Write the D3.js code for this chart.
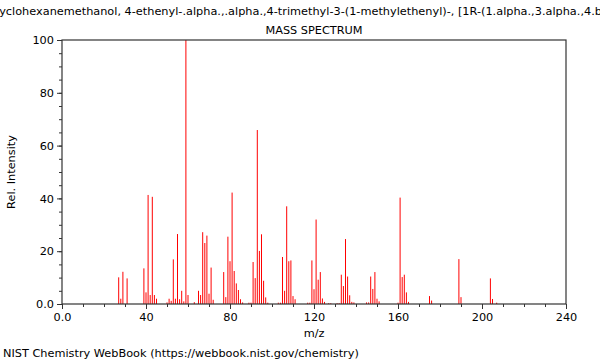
<!DOCTYPE html>
<html><head><meta charset="utf-8">
<script src="https://cdn.jsdelivr.net/npm/d3@7"></script>
<style>body{margin:0;background:#fff;}svg{display:block;font-family:"DejaVu Sans",sans-serif;}</style>
</head><body>
<svg id="c" width="600" height="360"></svg>
<script>
const titleText = "Cyclohexanemethanol, 4-ethenyl-.alpha.,.alpha.,4-trimethyl-3-(1-methylethenyl)-, [1R-(1.alpha.,3.alpha.,4.beta.)]-";
const subtitleText = "MASS SPECTRUM";
const xLabel = "m/z";
const yLabel = "Rel. Intensity";
const footer = "NIST Chemistry WebBook (https://webbook.nist.gov/chemistry)";
const xTicks = [0, 40, 80, 120, 160, 200, 240];
const xTickLabels = ["0.0", "40", "80", "120", "160", "200", "240"];
const yTicks = [0, 20, 40, 60, 80, 100];
const yTickLabels = ["0.0", "20", "40", "60", "80", "100"];
const mz = [27,28,29,31,39,40,41,42,43,44,45,50,51,52,53,54,55,56,57,58,59,60,63,65,66,67,68,69,70,71,72,
  77,78,79,80,81,82,83,84,85,86,89,90,91,92,93,94,95,96,97,98,103,104,105,106,107,108,109,110,111,
  117,118,119,120,121,122,123,124,125,127,128,131,132,133,134,135,136,137,138,139,
  145,146,147,148,149,150,151,160,161,162,163,164,165,175,176,189,190,204,205,207];
const intensity = [10.1,2,12.2,9.7,13.5,4.4,41.3,3.4,40.6,3.4,2,0.6,2,1.2,16.9,2,26.5,1.8,5,1,100,3.4,0.7,5,3.4,27.2,23.1,25.9,3.9,13.8,1.6,
  12.1,2.6,25.5,16.2,42.2,12.5,7.8,5.3,1.8,0.6,0.5,0.5,15.9,9.8,65.9,20.1,26.4,8.8,2.5,0.5,0.5,0.5,17.8,5,37,16.2,16.5,3,1.8,
  0.5,0.5,16.5,5.6,32,9.2,12.1,2.1,0.8,0.3,0.3,0.3,0.3,11.1,6.8,24.6,10.4,3.3,0.8,0.6,
  0.6,0.6,10.4,5.7,12.1,2,1,0.5,40.3,10.2,11.1,4.4,0.8,3,1.3,17,2.6,9.7,1.9,0.5];

const svg = d3.select("#c");
const L = 62, R = 566, T = 40, B = 304;
const x = d3.scaleLinear().domain([0, 240]).range([L, R]);
const y = d3.scaleLinear().domain([0, 100]).range([B, T]);
const axisColor = "#333";
const fs = 11.3;

// title
svg.append("text").attr("x", (L + R) / 2).attr("y", 15).attr("text-anchor", "middle")
  .attr("font-size", fs).attr("fill", "#000").text(titleText);
svg.append("text").attr("x", (L + R) / 2).attr("y", 34).attr("text-anchor", "middle")
  .attr("font-size", fs).attr("fill", "#000").text(subtitleText);

// bars
const data = mz.map((m, i) => ({m, v: intensity[i]}));
svg.append("g").selectAll("line").data(data).join("line")
  .attr("x1", d => x(d.m)).attr("x2", d => x(d.m))
  .attr("y1", y(0)).attr("y2", d => y(d.v))
  .attr("stroke", "#ff0000").attr("stroke-width", 1);

// frame
svg.append("rect").attr("x", L).attr("y", T).attr("width", R - L).attr("height", B - T)
  .attr("fill", "none").attr("stroke", axisColor).attr("stroke-width", 1.2);

// x axis
const xg = svg.append("g").attr("transform", `translate(0,${B})`);
xg.call(d3.axisBottom(x).tickValues(d3.range(0, 241, 10)).tickSize(3).tickFormat(""))
  .call(g => g.select(".domain").remove())
  .call(g => g.selectAll("line").attr("stroke", axisColor));
const xg2 = svg.append("g").attr("transform", `translate(0,${B})`);
xg2.call(d3.axisBottom(x).tickValues(xTicks).tickSize(5).tickPadding(4)
  .tickFormat((d, i) => xTickLabels[i]))
  .call(g => g.select(".domain").remove())
  .call(g => g.selectAll("line").attr("stroke", axisColor))
  .call(g => g.selectAll("text").attr("font-size", fs).attr("fill", "#000")
    .attr("font-family", "DejaVu Sans"));

// y axis
const yg = svg.append("g").attr("transform", `translate(${L},0)`);
yg.call(d3.axisLeft(y).tickValues(d3.range(0, 101, 5)).tickSize(3).tickFormat(""))
  .call(g => g.select(".domain").remove())
  .call(g => g.selectAll("line").attr("stroke", axisColor));
const yg2 = svg.append("g").attr("transform", `translate(${L},0)`);
yg2.call(d3.axisLeft(y).tickValues(yTicks).tickSize(5).tickPadding(3)
  .tickFormat((d, i) => yTickLabels[i]))
  .call(g => g.select(".domain").remove())
  .call(g => g.selectAll("line").attr("stroke", axisColor))
  .call(g => g.selectAll("text").attr("font-size", fs).attr("fill", "#000")
    .attr("font-family", "DejaVu Sans"));

// labels
svg.append("text").attr("x", (L + R) / 2).attr("y", 337).attr("text-anchor", "middle")
  .attr("font-size", fs).attr("fill", "#000").text(xLabel);
svg.append("text").attr("transform", `translate(15,${(T + B) / 2}) rotate(-90)`)
  .attr("text-anchor", "middle").attr("font-size", fs).attr("fill", "#000").text(yLabel);
svg.append("text").attr("x", 3).attr("y", 357).attr("font-size", fs).attr("fill", "#000").text(footer);
</script>
</body></html>
